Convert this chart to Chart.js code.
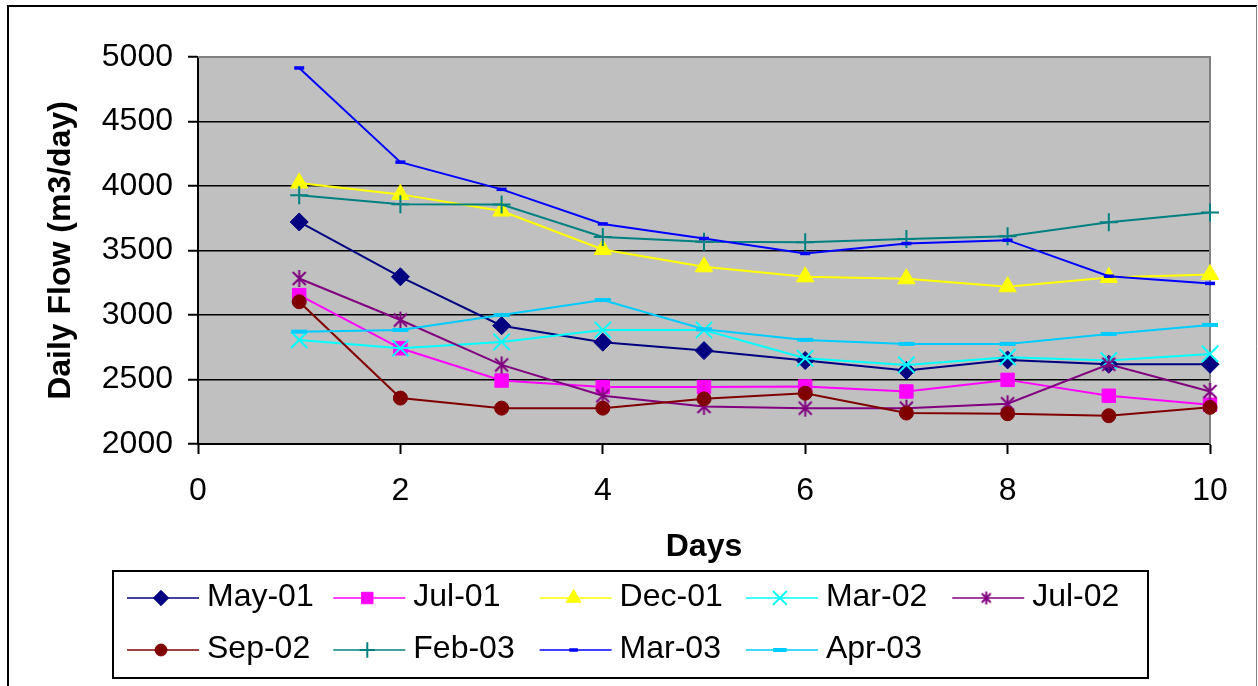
<!DOCTYPE html>
<html>
<head>
<meta charset="utf-8">
<script src="https://cdn.jsdelivr.net/npm/chart.js@4.4.1/dist/chart.umd.min.js"></script>
<style>
  html, body { margin: 0; padding: 0; background: #fff; }
  canvas { display: block; }
</style>
</head>
<body>
<canvas id="flow" width="1258" height="686"></canvas>
<script>
const days = [1, 2, 3, 4, 5, 6, 7, 8, 9, 10];

const may01 = [3721, 3296, 2917, 2789, 2724, 2647, 2570, 2652, 2618, 2618];
const jul01 = [3154, 2742, 2492, 2441, 2441, 2446, 2407, 2497, 2374, 2304];
const dec01 = [4023, 3935, 3806, 3508, 3374, 3296, 3281, 3219, 3291, 3314];
const mar02 = [2807, 2742, 2791, 2884, 2884, 2665, 2613, 2673, 2647, 2698];
const jul02 = [3283, 2961, 2613, 2374, 2291, 2278, 2278, 2312, 2618, 2407];
const sep02 = [3103, 2356, 2278, 2278, 2350, 2394, 2240, 2235, 2219, 2284];
const feb03 = [3928, 3858, 3856, 3605, 3567, 3564, 3590, 3611, 3719, 3794];
const mar03 = [4915, 4185, 3974, 3706, 3593, 3477, 3554, 3580, 3301, 3245];
const apr03 = [2871, 2884, 3000, 3116, 2889, 2807, 2776, 2776, 2853, 2923];

const seriesNames = ["May-01", "Jul-01", "Dec-01", "Mar-02", "Jul-02", "Sep-02", "Feb-03", "Mar-03", "Apr-03"];
const seriesValues = [may01, jul01, dec01, mar02, jul02, sep02, feb03, mar03, apr03];

const yTicks = [2000, 2500, 3000, 3500, 4000, 4500, 5000];
const xTicks = [0, 2, 4, 6, 8, 10];

const FONT = "'Liberation Sans', Arial, sans-serif";

// excel style asterisk: vertical bar plus an x
function asterisk(color, size) {
  const c = document.createElement("canvas");
  c.width = size; c.height = size;
  const g = c.getContext("2d");
  const m = size / 2, e = size - 1.5;
  g.strokeStyle = color;
  g.lineWidth = 2;
  g.beginPath();
  g.moveTo(m, 1); g.lineTo(m, size - 1);
  g.moveTo(3, 3); g.lineTo(size - 3, size - 3);
  g.moveTo(size - 3, 3); g.lineTo(3, size - 3);
  g.stroke();
  return c;
}

const looks = [
  { color: "#000080", style: "rectRot", r: 9, bw: 1 },
  { color: "#ff00ff", style: "rect", r: 9.5, bw: 1 },
  { color: "#ffff00", style: "triangle", r: 10, bw: 1 },
  { color: "#00ffff", style: "crossRot", r: 11.5, bw: 2 },
  { color: "#800080", style: asterisk("#800080", 19), r: 9, bw: 2 },
  { color: "#800000", style: "circle", r: 7, bw: 1 },
  { color: "#008080", style: "cross", r: 9, bw: 2 },
  { color: "#0000ff", style: "line", r: 5, bw: 3.5 },
  { color: "#00ccff", style: "line", r: 8, bw: 4 }
];
const legendStar = asterisk("#800080", 15);

const datasets = seriesNames.map((name, i) => ({
  label: name,
  data: days.map((d, j) => ({ x: d, y: seriesValues[i][j] })),
  borderColor: looks[i].color,
  backgroundColor: looks[i].color,
  borderWidth: 2,
  pointStyle: looks[i].style,
  pointRadius: looks[i].r,
  pointBorderWidth: looks[i].bw,
  pointBackgroundColor: looks[i].color,
  pointBorderColor: looks[i].color,
  tension: 0,
  clip: false,
  order: seriesNames.length - 1 - i
}));

const frame = {
  id: "frame",
  beforeDraw(chart) {
    const ctx = chart.ctx;
    const a = chart.chartArea;
    ctx.save();
    ctx.fillStyle = "#fff";
    ctx.fillRect(0, 0, chart.width, chart.height);
    ctx.fillStyle = "#c0c0c0";
    ctx.fillRect(a.left, a.top, a.right - a.left, a.bottom - a.top);
    ctx.strokeStyle = "#000";
    ctx.lineWidth = 2;
    ctx.beginPath();
    ctx.moveTo(8, 700); ctx.lineTo(8, 6); ctx.lineTo(1257, 6);
    ctx.stroke();
    ctx.strokeStyle = "#808080";
    ctx.lineWidth = 1;
    ctx.beginPath();
    ctx.moveTo(1256.5, 6); ctx.lineTo(1256.5, 700);
    ctx.stroke();
    ctx.restore();
  },
  beforeDatasetsDraw(chart) {
    const ctx = chart.ctx;
    const a = chart.chartArea;
    ctx.save();
    ctx.strokeStyle = "#808080";
    ctx.lineWidth = 2;
    ctx.beginPath();
    ctx.moveTo(a.left, a.top); ctx.lineTo(a.right, a.top); ctx.lineTo(a.right, a.bottom);
    ctx.stroke();
    ctx.restore();
  }
};

const legendBox = {
  id: "legendBox",
  afterDraw(chart) {
    const ctx = chart.ctx;
    ctx.save();
    ctx.strokeStyle = "#000";
    ctx.lineWidth = 2;
    ctx.strokeRect(113, 571, 1035, 107);
    ctx.font = "32px " + FONT;
    ctx.textBaseline = "middle";
    chart.data.datasets.forEach((ds, i) => {
      const col = i % 5, row = Math.floor(i / 5);
      const x = 127 + col * 206.3, y = 598 + row * 52;
      ctx.strokeStyle = ds.borderColor;
      ctx.fillStyle = ds.borderColor;
      ctx.lineWidth = 1.5;
      ctx.beginPath();
      ctx.moveTo(x, y); ctx.lineTo(x + 72, y);
      ctx.stroke();
      ctx.lineWidth = ds.pointBorderWidth;
      Chart.helpers.drawPoint(ctx, {
        pointStyle: i === 4 ? legendStar : ds.pointStyle,
        radius: ds.pointRadius * 0.85,
        borderWidth: ds.pointBorderWidth,
        rotation: 0
      }, x + 34, y);
      ctx.fillStyle = "#000";
      ctx.fillText(ds.label, x + 80, y - 1);
    });
    ctx.restore();
  }
};

new Chart(document.getElementById("flow"), {
  type: "line",
  data: { datasets: datasets },
  plugins: [frame, legendBox],
  options: {
    responsive: false,
    animation: false,
    devicePixelRatio: 1,
    layout: { padding: { left: 8, top: 57, right: 48, bottom: 120 } },
    plugins: {
      legend: { display: false },
      tooltip: { enabled: false }
    },
    scales: {
      x: {
        type: "linear",
        min: 0,
        max: 10,
        afterFit: (s) => { s.height = 122; },
        afterBuildTicks: (s) => { s.ticks = xTicks.map(v => ({ value: v })); },
        grid: { display: true, drawOnChartArea: false, drawTicks: true, tickLength: 10, tickColor: "#000", tickWidth: 2 },
        border: { display: true, color: "#000", width: 2 },
        ticks: { color: "#000", padding: 18, maxRotation: 0, font: { family: FONT, size: 32 }, callback: (v) => String(v) },
        title: { display: true, text: "Days", color: "#000", padding: 0, font: { family: FONT, size: 32, weight: "bold" } }
      },
      y: {
        min: 2000,
        max: 5000,
        afterFit: (s) => { s.width = 190; },
        afterBuildTicks: (s) => { s.ticks = yTicks.map(v => ({ value: v })); },
        grid: { color: "#000", lineWidth: 1.5, tickLength: 10, tickColor: "#000", tickWidth: 2 },
        border: { display: true, color: "#000", width: 2 },
        ticks: { color: "#000", padding: 15, font: { family: FONT, size: 32 }, callback: (v) => String(v) },
        title: { display: true, text: "Daily Flow (m3/day)", color: "#000", padding: { top: 34, bottom: 0 }, font: { family: FONT, size: 32, weight: "bold" } }
      }
    }
  }
});
</script>
</body>
</html>
